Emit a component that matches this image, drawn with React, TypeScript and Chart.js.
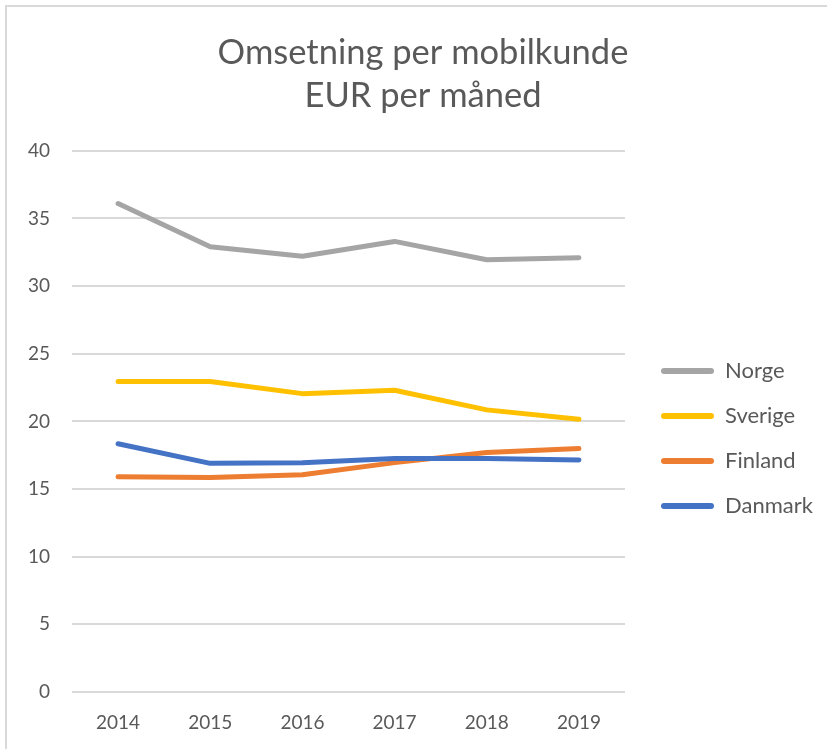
import React, { useEffect, useRef } from "react";
import { Chart, registerables } from "chart.js";

Chart.register(...registerables);

const years = ["2014", "2015", "2016", "2017", "2018", "2019"];
const seriesNames = ["Norge", "Sverige", "Finland", "Danmark"];
const norge = [36.1, 32.9, 32.2, 33.3, 31.95, 32.1];
const sverige = [22.95, 22.95, 22.05, 22.3, 20.85, 20.15];
const finland = [15.9, 15.85, 16.05, 16.95, 17.7, 18.0];
const danmark = [18.35, 16.9, 16.95, 17.25, 17.25, 17.15];
const seriesColors = ["#A5A5A5", "#FFC000", "#ED7D31", "#4472C4"];
const titleLines = ["Omsetning per mobilkunde", "EUR per måned"];

const FONT = "Lato, 'Noto Sans', sans-serif";
const TEXT = "#595959";
const LEGEND_WIDTH = 197;

const legendFit = {
  id: "legendFit",
  beforeLayout(chart: any) {
    const lg = chart.legend;
    if (!lg || lg._fixedFit) return;
    const orig = lg.fit.bind(lg);
    lg.fit = function () {
      orig();
      this.width = LEGEND_WIDTH;
    };
    lg._fixedFit = true;
  },
  afterLayout(chart: any) {
    const lg = chart.legend;
    if (!lg) return;
    lg.left += 13;
    lg.right += 13;
    lg.top += 17;
    lg.bottom += 17;
  },
};

export default function App() {
  const ref = useRef<HTMLCanvasElement | null>(null);

  useEffect(() => {
    if (!ref.current) return;
    const values = [norge, sverige, finland, danmark];
    const chart = new Chart(ref.current, {
      type: "line",
      data: {
        labels: years,
        datasets: seriesNames.map((name, i) => ({
          label: name,
          data: values[i],
          borderColor: seriesColors[i],
          backgroundColor: seriesColors[i],
          borderWidth: 5,
          borderCapStyle: "round",
          borderJoinStyle: "round",
          pointRadius: 0,
          tension: 0,
          order: seriesNames.length - i,
        })),
      },
      options: {
        responsive: false,
        animation: false,
        devicePixelRatio: 1,
        layout: { padding: { left: 24, right: 5, top: 31, bottom: 9 } },
        plugins: {
          title: {
            display: true,
            text: titleLines,
            color: TEXT,
            font: { family: FONT, size: 34.5, weight: "normal", lineHeight: 1.25 },
            padding: { top: 0, bottom: 33.5 },
          },
          legend: {
            position: "right",
            fullSize: false,
            align: "center",
            labels: {
              boxWidth: 53,
              boxHeight: 6,
              padding: 23,
              color: TEXT,
              font: { family: FONT, size: 22 },
              useBorderRadius: true,
              borderRadius: 3,
              sort: (a: any, b: any) => a.datasetIndex - b.datasetIndex,
              generateLabels: (c: any) =>
                Chart.defaults.plugins.legend.labels
                  .generateLabels(c)
                  .map((it: any) => ({
                    ...it,
                    fillStyle: seriesColors[it.datasetIndex],
                    strokeStyle: seriesColors[it.datasetIndex],
                    lineWidth: 0,
                  })),
            },
          },
          tooltip: { enabled: false },
        },
        scales: {
          x: {
            offset: true,
            grid: { display: false, drawTicks: false, offset: true },
            border: { display: false },
            ticks: { color: TEXT, font: { family: FONT, size: 19 }, padding: 19 },
            afterFit: (s: any) => {
              s.height = 48;
            },
          },
          y: {
            min: 0,
            max: 40,
            grid: { color: "#D9D9D9", lineWidth: 2, drawTicks: false },
            border: { display: false },
            ticks: {
              stepSize: 5,
              color: TEXT,
              font: { family: FONT, size: 19 },
              padding: 22,
            },
            afterFit: (s: any) => {
              s.width = 48;
            },
          },
        },
      },
      plugins: [legendFit],
    });
    return () => chart.destroy();
  }, []);

  return (
    <div
      style={{
        position: "absolute",
        left: 0,
        top: 0,
        width: 827,
        height: 749,
        overflow: "hidden",
        background: "#ffffff",
      }}
    >
      <div
        style={{
          position: "absolute",
          left: 5,
          top: 5,
          width: 900,
          height: 800,
          borderTop: "2px solid #D9D9D9",
          borderLeft: "2px solid #D9D9D9",
        }}
      />
      <canvas
        ref={ref}
        width={827}
        height={749}
        style={{ position: "absolute", left: 0, top: 0, width: 827, height: 749 }}
      />
    </div>
  );
}
